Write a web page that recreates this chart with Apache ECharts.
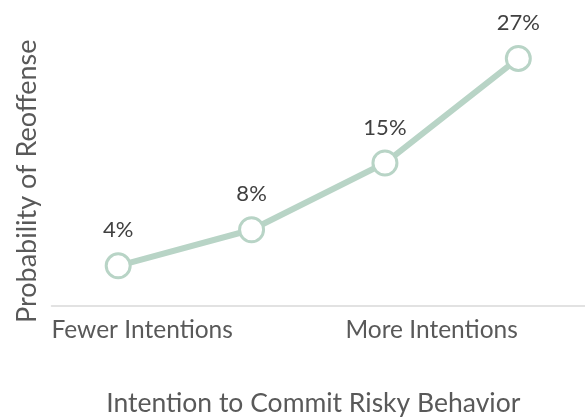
<!DOCTYPE html>
<html>
<head>
<meta charset="utf-8">
<script src="https://cdn.jsdelivr.net/npm/echarts@6/dist/echarts.min.js"></script>
<style>html,body{margin:0;padding:0;background:#fff}#c{width:585px;height:417px}</style>
</head>
<body>
<div id="c"></div>
<script>
// Data
var categories = ['Level 1', 'Level 2', 'Level 3', 'Level 4'];
var values = [4.4, 8.4, 15.8, 27.4];           // probability of reoffense, %
var valueLabels = ['4%', '8%', '15%', '27%'];  // printed data labels
var axisTickPositions = [0.17, 0.7125];        // relative positions of the axis captions
var axisTickLabels = ['Fewer Intentions', 'More Intentions'];
var xTitle = 'Intention to Commit Risky Behavior';
var yTitle = 'Probability of Reoffense';

var FONT = 'Lato';
var chart = echarts.init(document.getElementById('c'));
chart.setOption({
  animation: false,
  textStyle: { fontFamily: FONT },
  grid: { left: 51.5, right: 0, top: 35, bottom: 111.5, containLabel: false, outerBoundsMode: 'none' },
  xAxis: [{
    type: 'category',
    data: categories,
    boundaryGap: true,
    axisLine: { lineStyle: { color: '#d9d9d9', width: 1.5 } },
    axisTick: { show: false },
    axisLabel: { show: false },
    name: xTitle,
    nameLocation: 'middle',
    nameGap: 84.5,
    nameTextStyle: { fontFamily: FONT, fontSize: 26.5, color: '#595959', padding: [0, 10, 0, 0] }
  }, {
    type: 'value',
    min: 0, max: 1,
    position: 'bottom',
    axisLine: { show: false },
    axisTick: { show: false },
    splitLine: { show: false },
    axisLabel: {
      customValues: axisTickPositions,
      margin: 12.5,
      fontFamily: FONT, fontSize: 24.5, color: '#595959',
      formatter: function (v) {
        for (var i = 0; i < axisTickPositions.length; i++) {
          if (Math.abs(v - axisTickPositions[i]) < 1e-6) return axisTickLabels[i];
        }
        return '';
      }
    }
  }],
  yAxis: {
    type: 'value',
    min: 0, max: 30,
    axisLine: { show: false },
    axisTick: { show: false },
    axisLabel: { show: false },
    splitLine: { show: false },
    name: yTitle,
    nameLocation: 'middle',
    nameGap: 11,
    nameTextStyle: { fontFamily: FONT, fontSize: 27, color: '#595959', padding: [0, 22, 0, 0] }
  },
  series: [{
    type: 'line',
    data: values,
    xAxisIndex: 0,
    lineStyle: { color: '#b8d4c6', width: 6 },
    symbol: 'circle',
    symbolSize: 24,
    itemStyle: { color: '#ffffff', borderColor: '#b8d4c6', borderWidth: 3 },
    label: {
      show: true,
      position: 'top',
      distance: 11,
      fontFamily: FONT, fontSize: 22, color: '#404040',
      formatter: function (p) { return valueLabels[p.dataIndex]; }
    }
  }]
});
</script>
</body>
</html>
